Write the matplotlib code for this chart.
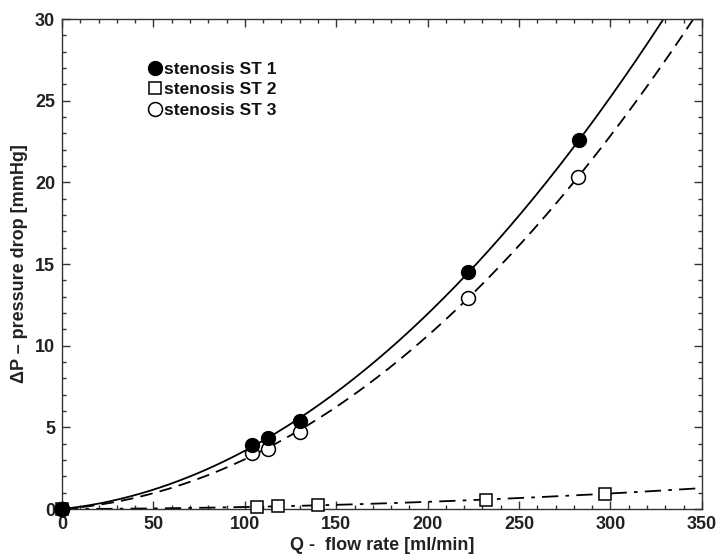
import numpy as np
import matplotlib
matplotlib.use("Agg")
import matplotlib.pyplot as plt
from matplotlib.ticker import MultipleLocator

plt.rcParams['font.family'] = ['Liberation Sans', 'DejaVu Sans']

# Data
q_st1 = [0, 104, 112.5, 130, 222, 283]
dp_st1 = [0, 3.95, 4.35, 5.4, 14.5, 22.6]

q_st2 = [0, 106.5, 118, 140, 232, 297]
dp_st2 = [0, 0.15, 0.18, 0.22, 0.55, 0.95]

q_st3 = [0, 104, 112.5, 130, 222, 282.5]
dp_st3 = [0, 3.43, 3.67, 4.71, 12.94, 20.35]

labels = ["stenosis ST 1", "stenosis ST 2", "stenosis ST 3"]
x_ticks = [0, 50, 100, 150, 200, 250, 300, 350]
y_ticks = [0, 5, 10, 15, 20, 25, 30]


def fit_curve(q, dp, qq, deg=3):
    q = np.asarray(q, float)
    dp = np.asarray(dp, float)
    A = np.column_stack([q ** k for k in range(1, deg + 1)])
    coef, *_ = np.linalg.lstsq(A, dp, rcond=None)
    return sum(c * qq ** (k + 1) for k, c in enumerate(coef))


fig = plt.figure(figsize=(7.19, 5.56), dpi=100)
ax = fig.add_axes([0.0862, 0.0845, 0.890, 0.8813])

qq = np.linspace(0, 350, 400)
ax.plot(qq, fit_curve(q_st1, dp_st1, qq), color='black', lw=1.3, ls='-')
ax.plot(qq, fit_curve(q_st3, dp_st3, qq), color='black', lw=1.3, ls=(0, (7, 4)))
ax.plot(qq, fit_curve(q_st2, dp_st2, qq, deg=2), color='black', lw=1.3, ls=(0, (9, 4, 2, 4)))

h1, = ax.plot(q_st1, dp_st1, 'o', ms=10, mfc='black', mec='black', clip_on=False, zorder=5, label=labels[0])
h2, = ax.plot(q_st2, dp_st2, 's', ms=8.5, mfc='white', mec='black', mew=1.1, clip_on=False, zorder=4, label=labels[1])
h3, = ax.plot(q_st3, dp_st3, 'o', ms=10, mfc='white', mec='black', mew=1.1, clip_on=False, zorder=4, label=labels[2])
ax.plot([0], [0], 'o', ms=10, mfc='black', mec='black', clip_on=False, zorder=6)

ax.set_xlim(0, 350)
ax.set_ylim(0, 30)
ax.set_xticks(x_ticks)
ax.set_yticks(y_ticks)
ax.xaxis.set_minor_locator(MultipleLocator(10))
ax.yaxis.set_minor_locator(MultipleLocator(1))
ax.tick_params(which='both', direction='in', top=True, right=True, width=1.0, color='#333333')
ax.tick_params(which='major', length=6, labelsize=13, labelcolor='#222222', pad=5)
ax.tick_params(which='minor', length=3)
for lab in ax.get_xticklabels() + ax.get_yticklabels():
    lab.set_fontweight('bold')
for s in ax.spines.values():
    s.set_linewidth(1.0)
    s.set_color('#333333')

ax.set_xlabel("Q -  flow rate [ml/min]", fontsize=13, fontweight='bold', color='#222222', labelpad=3)
ax.set_ylabel("ΔP – pressure drop [mmHg]", fontsize=13, fontweight='bold', color='#222222', labelpad=5)

leg = ax.legend(handles=[h1, h2, h3], loc='upper left', bbox_to_anchor=(0.127, 0.927),
                frameon=False, handlelength=0.6, handletextpad=0.2, labelspacing=0.3,
                prop={'weight': 'bold', 'size': 12.5}, borderaxespad=0)
for t in leg.get_texts():
    t.set_color('#111111')

fig.savefig("out.png", dpi=100)
